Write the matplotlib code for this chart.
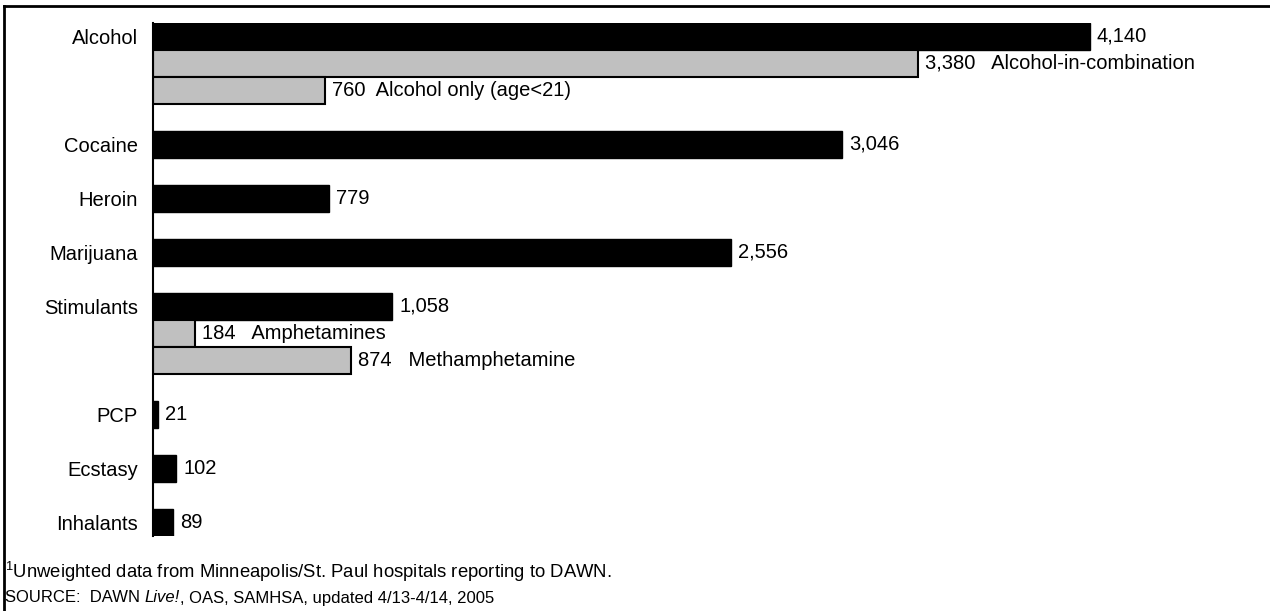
import matplotlib
matplotlib.use('Agg')
import matplotlib.pyplot as plt
from matplotlib.lines import Line2D

plt.rcParams['font.family'] = ['Liberation Sans', 'DejaVu Sans']
plt.rcParams['mathtext.fontset'] = 'custom'
plt.rcParams['mathtext.rm'] = 'Liberation Sans'
plt.rcParams['mathtext.it'] = 'Liberation Sans:italic'

# drug categories (black bars)
drugs = ['Alcohol', 'Cocaine', 'Heroin', 'Marijuana', 'Stimulants', 'PCP', 'Ecstasy', 'Inhalants']
visits = [4140, 3046, 779, 2556, 1058, 21, 102, 89]

# breakdown bars (gray), listed under their parent
sub_parent = ['Alcohol', 'Alcohol', 'Stimulants', 'Stimulants']
sub_names = ['Alcohol-in-combination', 'Alcohol only (age<21)', 'Amphetamines', 'Methamphetamine']
sub_visits = [3380, 760, 184, 874]
sub_gap = ['   ', '  ', '   ', '   ']

footnote = r'$^{1}$Unweighted data from Minneapolis/St. Paul hospitals reporting to DAWN.'
# source line pieces: (text, style)
source_parts = [('SOURCE:  DAWN ', 'normal'), ('Live!', 'italic'),
                (', OAS, SAMHSA, updated 4/13-4/14, 2005', 'normal')]

W, H = 1270, 611
fig = plt.figure(figsize=(W / 100, H / 100), dpi=100)
ax = fig.add_axes([153 / W, 1 - 535.5 / H, (1260 - 153) / W, (535.5 - 22.5) / H])

# work out row slots: each drug, then its breakdown rows, then a blank slot
main_pos, sub_pos = [], [None] * len(sub_names)
slot = 0
for d in drugs:
    main_pos.append(slot)
    slot += 1
    for j, p in enumerate(sub_parent):
        if p == d:
            sub_pos[j] = slot
            slot += 1
    slot += 1

ax.barh(main_pos, visits, height=1.0, color='black', edgecolor='black', linewidth=1)
ax.barh(sub_pos, sub_visits, height=1.0, color='#c0c0c0', edgecolor='black', linewidth=1.5)

for y, v in zip(main_pos, visits):
    ax.annotate(f'{v:,}', (v, y), xytext=(5, 0), textcoords='offset points',
                va='center', ha='left', fontsize=14.5)
for y, v, n, g in zip(sub_pos, sub_visits, sub_names, sub_gap):
    ax.annotate(f'{v:,}{g}{n}', (v, y), xytext=(5, 0), textcoords='offset points',
                va='center', ha='left', fontsize=14.5)

ax.set_yticks(main_pos)
ax.set_yticklabels(drugs, fontsize=14.5)
ax.tick_params(axis='y', length=0, pad=11)
ax.set_xticks([])
ax.set_xlim(0, 4140 * (1260 - 153) / (1090 - 153))
ax.set_ylim(slot - 1.5, -0.5)
for s in ['top', 'right', 'bottom']:
    ax.spines[s].set_visible(False)
ax.spines['left'].set_linewidth(1.5)

fig.text(5 / W, 1 - 572 / H, footnote, fontsize=13.3, va='center', ha='left')

# source line, drawn piece by piece so "Live!" can be italic
renderer = fig.canvas.get_renderer()
x = 5 / W
for txt, style in source_parts:
    t = fig.text(x, 1 - 598 / H, txt, fontsize=12, style=style, va='center', ha='left')
    bb = t.get_window_extent(renderer=renderer)
    x += bb.width / W

# outer frame (top and left edges)
fig.add_artist(Line2D([3.5 / W, 1], [1 - 5.5 / H, 1 - 5.5 / H], color='black', lw=2, transform=fig.transFigure))
fig.add_artist(Line2D([3.5 / W, 3.5 / W], [0, 1 - 5.5 / H], color='black', lw=2, transform=fig.transFigure))

fig.savefig('out.png', dpi=100)
